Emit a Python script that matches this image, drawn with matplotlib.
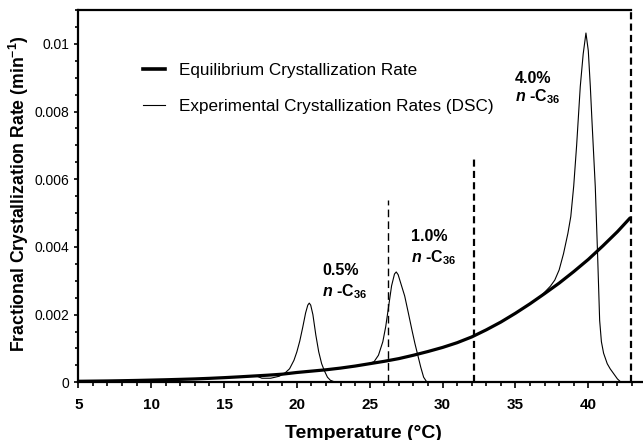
import matplotlib

matplotlib.use("Agg")
import matplotlib.pyplot as plt
from matplotlib.lines import Line2D
from matplotlib.ticker import MultipleLocator, FuncFormatter

plt.rcParams.update({
    "font.family": "Liberation Sans",
    "mathtext.fontset": "custom",
    "mathtext.rm": "Liberation Sans:bold",
    "mathtext.it": "Liberation Sans:bold:italic",
    "mathtext.bf": "Liberation Sans:bold",
})

# equilibrium crystallization rate (thick curve)
eq_temp = [5, 6, 7, 8, 9, 10, 11, 12, 13, 14, 15, 16, 17, 18, 19, 20, 21, 22, 23, 24,
           25, 26, 27, 28, 29, 30, 31, 32, 33, 34, 35, 36, 37, 38, 39, 40, 41, 42, 42.9]
eq_rate = [0.00003, 0.000035, 0.00004, 0.000047, 0.000055, 0.000065, 0.000075, 0.000087,
           0.0001, 0.000117, 0.000137, 0.00016, 0.000185, 0.00021, 0.00024, 0.00029,
           0.00033, 0.00037, 0.00042, 0.00048, 0.00055, 0.00062, 0.00070, 0.00080,
           0.00091, 0.00103, 0.00117, 0.00134, 0.00155, 0.00178, 0.00204, 0.00232,
           0.00262, 0.00293, 0.00327, 0.00363, 0.00403, 0.00445, 0.00487]

# DSC traces (thin lines)
t_05 = [17.2, 17.6, 18.2, 18.8, 19.2, 19.5, 19.8, 20.0, 20.2, 20.4, 20.6, 20.75, 20.85,
        20.95, 21.1, 21.3, 21.5, 21.7, 21.9, 22.1, 22.3, 22.6]
r_05 = [0.00019, 0.00012, 0.00012, 0.00018, 0.00028, 0.00040, 0.00065, 0.00090, 0.00122,
        0.00162, 0.00205, 0.00228, 0.00234, 0.00228, 0.00200, 0.00140, 0.00090, 0.00055,
        0.00033, 0.00015, 0.00006, 0.00001]

t_10 = [25.0, 25.3, 25.6, 25.9, 26.1, 26.3, 26.5, 26.7, 26.82, 26.95, 27.15, 27.4, 27.65,
        27.9, 28.1, 28.3, 28.5, 28.7, 28.9]
r_10 = [0.00056, 0.00061, 0.00080, 0.00120, 0.00165, 0.00225, 0.00285, 0.00320, 0.00326,
        0.00318, 0.00290, 0.00255, 0.00205, 0.00154, 0.00115, 0.00080, 0.00045, 0.00015,
        0.00002]

t_40 = [36.6, 37.0, 37.4, 37.7, 38.0, 38.3, 38.6, 38.8, 39.0, 39.2, 39.45, 39.65, 39.84,
        40.0, 40.14, 40.25, 40.48, 40.64, 40.78, 40.9, 41.05, 41.3, 41.5, 41.8, 42.0, 42.2]
r_40 = [0.00249, 0.00266, 0.00284, 0.00302, 0.00332, 0.00380, 0.00440, 0.00490, 0.00580,
        0.00700, 0.00874, 0.00970, 0.01032, 0.00980, 0.00874, 0.00775, 0.00578, 0.00376,
        0.00183, 0.00120, 0.00086, 0.00055, 0.00040, 0.00022, 0.00010, 0.00002]

# dashed markers: (temperature, top of line)
dash_temp = [26.26, 32.16, 42.9]
dash_top = [0.00538, 0.0066, 0.011]

labels = [("0.5%", 21.72, 0.00331, 0.00269),
          ("1.0%", 27.83, 0.00432, 0.00367),
          ("4.0%", 34.97, 0.00899, 0.00843)]

W, H = 643, 440
fig = plt.figure(figsize=(W / 100, H / 100), dpi=100)
ax = fig.add_axes([78.3 / W, 1 - 382.3 / H, (W - 78.3) / W, (382.3 - 10) / H])

for t, r in [(t_05, r_05), (t_10, r_10), (t_40, r_40)]:
    ax.plot(t, r, color="black", linewidth=0.8, zorder=2)
ax.plot(eq_temp, eq_rate, color="black", linewidth=2.3, zorder=3, solid_capstyle="butt")

ax.plot([dash_temp[0]] * 2, [0, dash_top[0]], color="black", linewidth=1.0,
        linestyle=(0, (5.5, 3.0)), zorder=1)
for xv, top in zip(dash_temp[1:], dash_top[1:]):
    ax.plot([xv, xv], [0, top], color="black", linewidth=1.6,
            linestyle=(0, (3.2, 1.9)), zorder=1, clip_on=False)

for pct, xv, y1, y2 in labels:
    ax.text(xv, y1, pct, fontsize=11.5, fontweight="bold", ha="left", va="center")
    ax.text(xv, y2, r"$\mathit{n}$ -C$_{36}$", fontsize=11.5, fontweight="bold",
            ha="left", va="center")

ax.set_xlim(5, 5 + (W - 78.3) / 14.571)
ax.set_ylim(0, 0.011)
ax.xaxis.set_major_locator(MultipleLocator(5))
ax.xaxis.set_minor_locator(MultipleLocator(1))
ax.yaxis.set_major_locator(MultipleLocator(0.002))
ax.yaxis.set_minor_locator(MultipleLocator(0.0005))
ax.yaxis.set_major_formatter(FuncFormatter(lambda v, _: f"{v:g}" if v <= 0.01 + 1e-9 else ""))
ax.tick_params(axis="x", which="major", direction="out", length=4, width=1.2, pad=7,
               labelsize=11)
ax.tick_params(axis="x", which="minor", direction="out", length=3, width=1.2)
ax.tick_params(axis="y", which="major", direction="out", length=3.2, width=1.2, pad=3.5,
               labelsize=10)
ax.tick_params(axis="y", which="minor", direction="out", length=2.4, width=1.2)
for lbl in ax.get_xticklabels():
    lbl.set_fontweight("bold")

ax.spines["right"].set_visible(False)
for s in ("left", "bottom", "top"):
    ax.spines[s].set_linewidth(1.6)
ax.spines["top"].set_bounds(5, 42.9)

handles = [Line2D([], [], color="black", linewidth=2.6),
           Line2D([], [], color="black", linewidth=0.8)]
ax.legend(handles, ["Equilibrium Crystallization Rate",
                    "Experimental Crystallization Rates (DSC)"],
          loc="upper left", bbox_to_anchor=(143 / W, 1 - 63 / H), bbox_transform=fig.transFigure,
          frameon=False, fontsize=12.3, handlelength=1.3, handletextpad=0.8,
          labelspacing=1.25, borderpad=0, borderaxespad=0)

fig.text(363 / W, 1 - 433 / H, "Temperature (°C)", fontsize=14, fontweight="bold",
         ha="center", va="center")
fig.text(19 / W, 1 - 194 / H, "Fractional Crystallization Rate (min$^{-1}$)", fontsize=12.7,
         fontweight="bold", rotation=90, ha="center", va="center")

fig.savefig("out.png", dpi=100)
